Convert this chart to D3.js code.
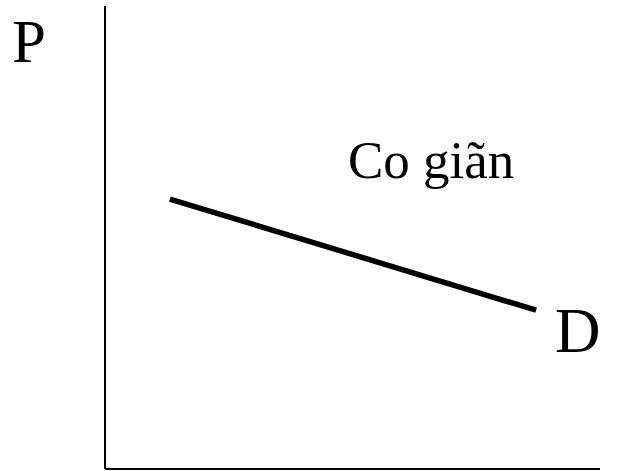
<!DOCTYPE html>
<html>
<head>
<meta charset="utf-8">
<script src="https://cdn.jsdelivr.net/npm/d3@7"></script>
<style>
  html, body { margin: 0; padding: 0; background: #fff; }
  svg { display: block; }
</style>
</head>
<body>
<svg id="chart" width="633" height="471"></svg>
<script>
// Elastic demand curve: quantity (x) vs price (y), arbitrary units 0–100
const demandQuantity = [13.1, 87.1];
const demandPrice = [58.3, 34.3];
const axisLabels = ["P"];
const curveLabels = ["D"];
const titleLabels = ["Co giãn"];

const svg = d3.select("#chart");
const font = "'Liberation Serif', 'Times New Roman', serif";

const x = d3.scaleLinear().domain([0, 100]).range([105, 600]);
const y = d3.scaleLinear().domain([0, 100]).range([469, 6]);

// Axes as plain lines (no ticks)
svg.append("line")
  .attr("x1", x(0)).attr("x2", x(0))
  .attr("y1", y(0)).attr("y2", y(100))
  .attr("stroke", "#000").attr("stroke-width", 2);
svg.append("line")
  .attr("x1", x(0)).attr("x2", x(100))
  .attr("y1", y(0)).attr("y2", y(0))
  .attr("stroke", "#000").attr("stroke-width", 2);

// Demand line
const pts = demandQuantity.map((q, i) => [q, demandPrice[i]]);
svg.append("path")
  .datum(pts)
  .attr("d", d3.line().x(d => x(d[0])).y(d => y(d[1])))
  .attr("fill", "none")
  .attr("stroke", "#000")
  .attr("stroke-width", 5.5);

// Labels
svg.append("text")
  .attr("x", 12).attr("y", 62)
  .attr("font-family", font).attr("font-size", 61)
  .text(axisLabels[0]);

svg.append("text")
  .attr("x", 555).attr("y", 352)
  .attr("font-family", font).attr("font-size", 63)
  .text(curveLabels[0]);

svg.append("text")
  .attr("x", 348).attr("y", 178)
  .attr("font-family", font).attr("font-size", 53)
  .text(titleLabels[0]);
</script>
</body>
</html>
